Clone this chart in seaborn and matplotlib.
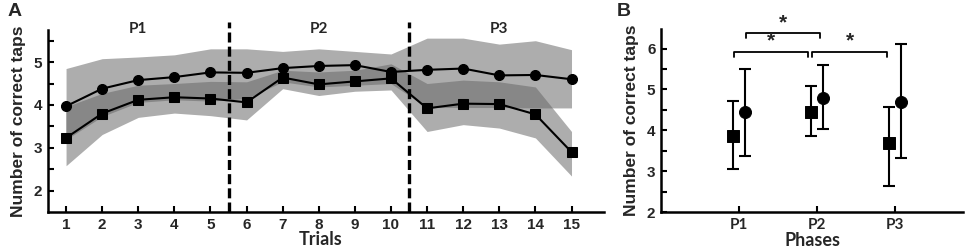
import numpy as np
import pandas as pd
import matplotlib
matplotlib.use("Agg")
import matplotlib.pyplot as plt
import seaborn as sns

# ---- data ----
trials = list(range(1, 16))
circ_mean = [3.97, 4.38, 4.58, 4.65, 4.76, 4.75, 4.86, 4.91, 4.93, 4.77, 4.82, 4.85, 4.69, 4.70, 4.60]
circ_hi = [4.85, 5.08, 5.12, 5.17, 5.31, 5.31, 5.25, 5.31, 5.25, 5.19, 5.56, 5.56, 5.42, 5.50, 5.29]
circ_lo = [3.19, 3.73, 4.06, 4.12, 4.09, 4.15, 4.54, 4.42, 4.46, 4.50, 3.94, 3.94, 3.94, 3.93, 3.93]
sq_mean = [3.23, 3.80, 4.12, 4.18, 4.15, 4.06, 4.64, 4.48, 4.55, 4.62, 3.92, 4.03, 4.02, 3.78, 2.90]
sq_hi = [3.96, 4.27, 4.46, 4.50, 4.55, 4.54, 4.81, 4.77, 4.81, 4.96, 4.50, 4.58, 4.54, 4.42, 3.38]
sq_lo = [2.58, 3.31, 3.71, 3.81, 3.75, 3.65, 4.38, 4.22, 4.32, 4.35, 3.38, 3.54, 3.46, 3.23, 2.34]

phase_bounds = [5.5, 10.5]
phase_names = ["P1", "P2", "P3"]
phase_label_trial = [3, 8, 13]

sq_phase_mean = [3.87, 4.46, 3.70]
sq_phase_lo = [3.05, 3.85, 2.63]
sq_phase_hi = [4.72, 5.08, 4.58]
circ_phase_mean = [4.44, 4.80, 4.70]
circ_phase_lo = [3.38, 4.02, 3.32]
circ_phase_hi = [5.51, 5.61, 6.12]

# significance brackets: (x start, x end, bar height)
brackets = [(0.09, 1.04, 6.37), (-0.06, 0.89, 5.92), (0.94, 1.90, 5.92)]

sns.set_theme(style="ticks")
plt.rcParams["font.family"] = ["Liberation Sans", "DejaVu Sans"]
plt.rcParams["font.weight"] = "bold"

LIGHT = "#adadad"
DARK = "#878787"
num_font = dict(family="Liberation Sans", weight="bold")
txt_font = dict(family="Lato", weight="bold")

fig = plt.figure(figsize=(9.65, 2.47), dpi=100)
axA = fig.add_axes([48 / 965, 1 - 212 / 247, (604 - 48) / 965, (212 - 30) / 247])
axB = fig.add_axes([661 / 965, 1 - 212 / 247, (963 - 661) / 965, (212 - 29) / 247])

# ---- panel A ----
x = np.array(trials)
c_lo, c_hi = np.array(circ_lo), np.array(circ_hi)
s_lo, s_hi = np.array(sq_lo), np.array(sq_hi)
# interpolate finely so the overlap region is traced exactly
xf = np.linspace(1, 15, 1401)
cl, ch = np.interp(xf, x, c_lo), np.interp(xf, x, c_hi)
sl, sh = np.interp(xf, x, s_lo), np.interp(xf, x, s_hi)
axA.fill_between(xf, cl, ch, color=LIGHT, lw=0, zorder=1)
axA.fill_between(xf, sl, sh, color=LIGHT, lw=0, zorder=1)
ov_lo, ov_hi = np.maximum(cl, sl), np.minimum(ch, sh)
axA.fill_between(xf, ov_lo, ov_hi, where=ov_hi > ov_lo, color=DARK, lw=0, zorder=2)

dfA = pd.DataFrame({"trial": trials, "circ": circ_mean, "sq": sq_mean})
sns.lineplot(data=dfA, x="trial", y="circ", ax=axA, color="black", lw=1.5,
             marker="o", markersize=7.2, markeredgecolor="black", zorder=4)
sns.lineplot(data=dfA, x="trial", y="sq", ax=axA, color="black", lw=1.5,
             marker="s", markersize=6.8, markeredgecolor="black", zorder=4)

for b in phase_bounds:
    axA.axvline(b, ymin=0, ymax=1.045, color="black", lw=2.4, ls=(0, (3.0, 1.25)),
                clip_on=False, zorder=5)
for name, t in zip(phase_names, phase_label_trial):
    axA.text(t, 5.78, name, ha="center", va="center", fontsize=11, **txt_font)

axA.set_xlim(0.5, 15.9)
axA.set_ylim(1.5, 5.75)
axA.set_xticks(trials)
axA.set_yticks([2, 3, 4, 5])
axA.set_yticks([2.5, 3.5, 4.5, 5.5], minor=True)
axA.set_xlabel("Trials", fontsize=13, **txt_font)
axA.xaxis.set_label_coords(0.49, -0.105)
axA.set_ylabel("Number of correct taps", fontsize=12.5, labelpad=6, **num_font)

# ---- panel B ----
xb = np.arange(len(phase_names))
off = 0.075
dfB = pd.DataFrame({"x": np.concatenate([xb - off, xb + off]),
                    "y": sq_phase_mean + circ_phase_mean,
                    "kind": ["sq"] * 3 + ["circ"] * 3})
for kind, mk, lo, hi in [("sq", "s", sq_phase_lo, sq_phase_hi),
                         ("circ", "o", circ_phase_lo, circ_phase_hi)]:
    d = dfB[dfB["kind"] == kind]
    yerr = [d["y"].values - np.array(lo), np.array(hi) - d["y"].values]
    axB.errorbar(d["x"], d["y"], yerr=yerr, fmt="none", ecolor="black",
                 elinewidth=1.5, capsize=4, capthick=1.5, zorder=3)
    sns.scatterplot(data=d, x="x", y="y", ax=axB, marker=mk, s=75,
                    color="black", edgecolor="black", zorder=4, legend=False)

for x0, x1, h in brackets:
    axB.plot([x0, x0, x1, x1], [h - 0.12, h, h, h - 0.12], color="black",
             lw=1.3, clip_on=False)
    axB.text((x0 + x1) / 2, h + 0.03, "*", ha="center", va="bottom",
             fontsize=15, **num_font)

axB.set_xlim(-1.0, 2.87)
axB.set_ylim(2, 6.48)
axB.set_xticks(xb)
axB.set_xticklabels(phase_names)
axB.set_yticks([2, 3, 4, 5, 6])
axB.set_yticks([2.5, 3.5, 4.5, 5.5], minor=True)
axB.set_xlabel("Phases", fontsize=13, labelpad=0, **txt_font)
axB.set_ylabel("Number of correct taps", fontsize=12.5, labelpad=6, **num_font)

for ax in (axA, axB):
    sns.despine(ax=ax)
    for s in ("left", "bottom"):
        ax.spines[s].set_linewidth(1.8)
        ax.spines[s].set_color("black")
    ax.tick_params(which="both", direction="in", width=1.5, color="black",
                   labelsize=11, pad=4)
    ax.tick_params(which="major", length=4)
    ax.tick_params(which="minor", length=4)
    for lab in ax.get_xticklabels() + ax.get_yticklabels():
        lab.set_fontweight("bold")
        lab.set_family("Liberation Sans")
for lab in axB.get_xticklabels():
    lab.set_family("Lato")

fig.text(8 / 965, 1 - 12 / 247, "A", fontsize=14, ha="left", va="center", **num_font)
fig.text(617 / 965, 1 - 12 / 247, "B", fontsize=14, ha="left", va="center", **num_font)

fig.savefig("out.png", dpi=100)
